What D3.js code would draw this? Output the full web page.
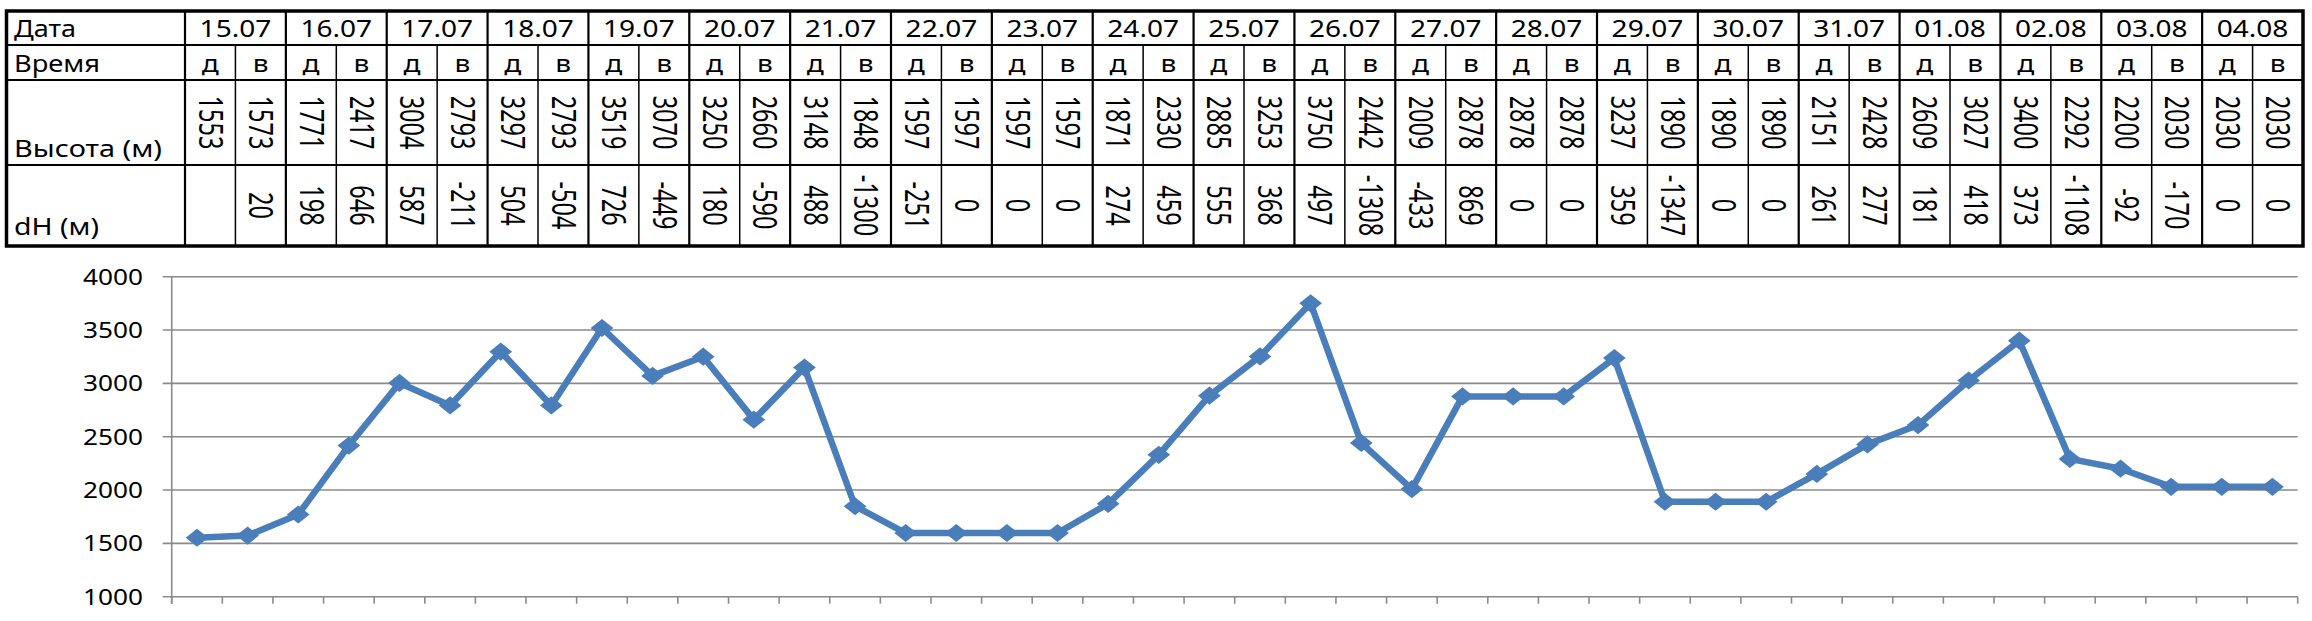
<!DOCTYPE html>
<html>
<head>
<meta charset="utf-8">
<script src="https://cdn.jsdelivr.net/npm/d3@7"></script>
<style>
  html, body { margin: 0; padding: 0; background: #fff; }
  svg { display: block; }
  text { font-family: "Noto Sans", "DejaVu Sans", sans-serif; fill: #000; }
</style>
</head>
<body>
<svg id="chart" width="2312" height="621"></svg>
<script>
// ---- data ----
const dates = ["15.07","16.07","17.07","18.07","19.07","20.07","21.07","22.07","23.07","24.07","25.07",
               "26.07","27.07","28.07","29.07","30.07","31.07","01.08","02.08","03.08","04.08"];
const times = ["д","в"];
const heights = [1553,1573,1771,2417,3004,2793,3297,2793,3519,3070,3250,2660,3148,1848,1597,1597,1597,1597,
                 1871,2330,2885,3253,3750,2442,2009,2878,2878,2878,3237,1890,1890,1890,2151,2428,2609,3027,
                 3400,2292,2200,2030,2030,2030];
const dH = ["",20,198,646,587,-211,504,-504,726,-449,180,-590,488,-1300,-251,0,0,0,274,459,555,368,497,-1308,
            -433,869,0,0,359,-1347,0,0,261,277,181,418,373,-1108,-92,-170,0,0];
const rowLabels = ["Дата","Время","Высота (м)","dH (м)"];
const yTicks = [1000,1500,2000,2500,3000,3500,4000];

// ---- layout ----
const svg = d3.select("#chart");
const SX = 1.22, SXR = 1.36;
const T = {left: 6.5, labelRight: 185, right: 2303, rows: [11, 45, 80, 165, 246]};
const slots = d3.range(heights.length);
const xDate = d3.scaleBand().domain(dates).range([T.labelRight, T.right]);
const xSlot = d3.scaleBand().domain(slots).range([T.labelRight, T.right]);

// ---- table ----
const tbl = svg.append("g");
const labelW = [62, 86, 148, 85];
const labelBase = [36.7, 72, 157, 235];
rowLabels.forEach((l, i) => {
  tbl.append("text").attr("x", 14).attr("y", labelBase[i])
    .attr("font-size", 23).attr("textLength", labelW[i]).attr("lengthAdjust", "spacingAndGlyphs").text(l);
});
tbl.selectAll(".date").data(dates).join("text")
  .attr("transform", d => `translate(${xDate(d) + xDate.bandwidth()/2},36.7) scale(${SX},1)`)
  .attr("text-anchor", "middle").attr("font-size", 23).text(d => d);
tbl.selectAll(".time").data(slots).join("text")
  .attr("transform", i => `translate(${xSlot(i) + xSlot.bandwidth()/2},71.5) scale(${SX},1)`)
  .attr("text-anchor", "middle").attr("font-size", 23).text(i => times[i % 2]);
const rowMid = (a, b) => (T.rows[a] + T.rows[b]) / 2;
tbl.selectAll(".h").data(slots).join("text")
  .attr("transform", i => `translate(${xSlot(i) + xSlot.bandwidth()/2},${rowMid(2,3)}) scale(${SXR},1) rotate(90)`)
  .attr("text-anchor", "middle").attr("dy", "0.36em").attr("font-size", 23.5).text(i => heights[i]);
tbl.selectAll(".dh").data(slots).join("text")
  .attr("transform", i => `translate(${xSlot(i) + xSlot.bandwidth()/2},${rowMid(3,4)}) scale(${SXR},1) rotate(90)`)
  .attr("text-anchor", "middle").attr("dy", "0.36em").attr("font-size", 23.5).text(i => dH[i]);

const g = tbl.append("g").attr("stroke", "#000");
[1,2,3].forEach(r => g.append("line").attr("x1", T.left).attr("x2", T.right)
  .attr("y1", T.rows[r]).attr("y2", T.rows[r]).attr("stroke-width", 1.8));
g.selectAll(".sub").data(slots.filter(i => i % 2 === 1)).join("line")
  .attr("x1", i => xSlot(i)).attr("x2", i => xSlot(i))
  .attr("y1", T.rows[1]).attr("y2", T.rows[4]).attr("stroke-width", 1.5);
g.selectAll(".db").data(dates).join("line")
  .attr("x1", d => xDate(d)).attr("x2", d => xDate(d))
  .attr("y1", T.rows[0]).attr("y2", T.rows[4]).attr("stroke-width", 2.2);
g.append("rect").attr("x", T.left).attr("y", T.rows[0])
  .attr("width", T.right - T.left).attr("height", T.rows[4] - T.rows[0])
  .attr("fill", "none").attr("stroke-width", 3.5);

// ---- line chart ----
const C = {left: 171.7, right: 2297.7, top: 276.7, bottom: 596.7};
const x = d3.scaleBand().domain(slots).range([C.left, C.right]);
const y = d3.scaleLinear().domain([1000, 4000]).range([C.bottom, C.top]);
const grey = "#8a8a8a";

const ch = svg.append("g");
ch.selectAll(".grid").data(yTicks).join("line")
  .attr("x1", C.left - 9).attr("x2", C.right)
  .attr("y1", d => y(d)).attr("y2", d => y(d))
  .attr("stroke", grey).attr("stroke-width", 1.6);
ch.selectAll(".ylab").data(yTicks).join("text")
  .attr("transform", d => `translate(143,${y(d) + 8}) scale(${SX},1)`)
  .attr("text-anchor", "end").attr("font-size", 21.5).text(d => d);
ch.append("line").attr("x1", C.left).attr("x2", C.left).attr("y1", C.top).attr("y2", C.bottom + 7)
  .attr("stroke", grey).attr("stroke-width", 1.6);
const bounds = slots.map(i => x(i)).concat([x(slots.length - 1) + x.bandwidth()]);
ch.selectAll(".xt").data(bounds).join("line")
  .attr("x1", d => d).attr("x2", d => d).attr("y1", C.bottom).attr("y2", C.bottom + 7)
  .attr("stroke", grey).attr("stroke-width", 1.6);

const blue = "#4a7ebb";
const line = d3.line().x((d, i) => x(i) + x.bandwidth()/2).y(d => y(d));
ch.append("path").datum(heights).attr("d", line)
  .attr("fill", "none").attr("stroke", blue).attr("stroke-width", 6.5).attr("stroke-linejoin", "round");
const sym = d3.symbol(d3.symbolSquare, 165);
ch.selectAll(".mk").data(heights).join("path")
  .attr("d", sym)
  .attr("transform", (d, i) => `translate(${x(i) + x.bandwidth()/2},${y(d)}) scale(1.25,1) rotate(45)`)
  .attr("fill", blue);
</script>
</body>
</html>
